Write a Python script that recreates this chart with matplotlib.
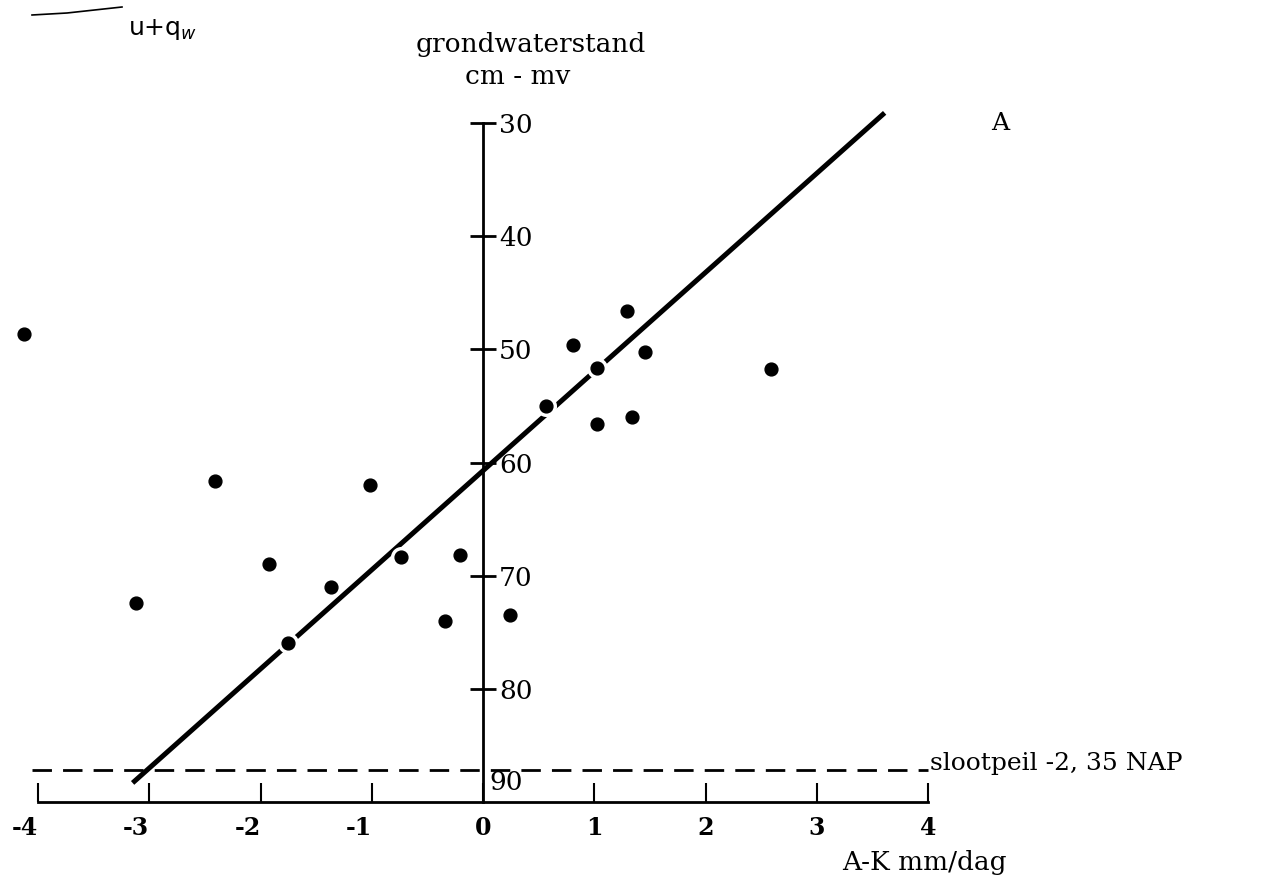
import matplotlib.pyplot as plt

plt.rcParams['font.family'] = ['DejaVu Serif']

# A-K (mm/dag) and grondwaterstand (cm - mv) per measurement
ak = [-4.13, -3.12, -2.41, -1.92, -1.75, -1.37, -1.02, -0.74, -0.34, -0.21,
      0.24, 0.57, 0.81, 1.02, 1.02, 1.29, 1.46, 1.34, 2.59]
gws = [48.6, 72.4, 61.6, 69.0, 75.9, 71.0, 62.0, 68.3, 74.0, 68.2,
       73.5, 55.0, 49.6, 51.6, 56.6, 46.6, 50.2, 56.0, 51.7]

# drawn regression line (end points)
fit_x = [-3.15, 3.61]
fit_y = [88.3, 29.1]

slootpeil = 87.2
x_ticks = [-4, -3, -2, -1, 0, 1, 2, 3, 4]
y_ticks = [30, 40, 50, 60, 70, 80]

fig = plt.figure(figsize=(12.7, 8.96), dpi=100)
ax = fig.add_axes([0, 0, 1, 1])
ax.set_xlim(-4.342, 7.074)
ax.set_ylim(98.29, 19.13)

# fitted line, white halos give the gaps where dots sit on the line
ax.plot(fit_x, fit_y, color='black', lw=3.6, solid_capstyle='butt', zorder=2)
ax.scatter(ak, gws, s=200, color='white', zorder=3)
ax.scatter(ak, gws, s=85, color='black', zorder=4)

# slootpeil
ax.plot([-4.05, 4.0], [slootpeil, slootpeil], color='black', lw=2,
        dashes=(7, 4), zorder=1)
ax.text(4.02, slootpeil, 'slootpeil -2, 35 NAP', fontsize=18,
        ha='left', va='baseline')

# axes
for side in ['left', 'top']:
    ax.spines[side].set_visible(False)
ax.spines['right'].set_position(('data', 0))
ax.spines['right'].set_bounds(30, 90)
ax.spines['right'].set_linewidth(2)
ax.spines['bottom'].set_position(('data', 90))
ax.spines['bottom'].set_bounds(-4, 4)
ax.spines['bottom'].set_linewidth(2)

ax.yaxis.tick_right()
ax.set_yticks(y_ticks)
ax.set_yticklabels([str(v) for v in y_ticks])
ax.tick_params(axis='y', direction='inout', length=19, width=2, pad=2,
               labelsize=19)
ax.set_xticks(x_ticks)
ax.set_xticklabels([str(v) for v in x_ticks], fontweight='bold')
ax.tick_params(axis='x', direction='in', length=14, width=1.5, pad=10,
               labelsize=17)
for lab, v in zip(ax.get_xticklabels(), x_ticks):
    if v < 0:
        lab.set_ha('right')

ax.text(0.06, 88.3, '90', fontsize=19, ha='left', va='center')
ax.text(0.43, 23.1, 'grondwaterstand', fontsize=19, ha='center', va='center')
ax.text(0.31, 25.9, 'cm - mv', fontsize=19, ha='center', va='center')
ax.text(3.97, 95.3, 'A-K mm/dag', fontsize=19, ha='center', va='center')
ax.text(4.65, 30.0, 'A', fontsize=18, ha='center', va='center')

# handwritten note top left
ax.plot([32 / 1270, 67 / 1270, 122 / 1270],
        [1 - 15 / 896, 1 - 13 / 896, 1 - 7 / 896],
        transform=ax.transAxes, color='black', lw=1.2)
ax.text(128 / 1270, 1 - 30 / 896, 'u+q$_{w}$', transform=ax.transAxes,
        fontsize=18, family='DejaVu Sans', ha='left', va='center')

fig.savefig('out.png', dpi=100)
